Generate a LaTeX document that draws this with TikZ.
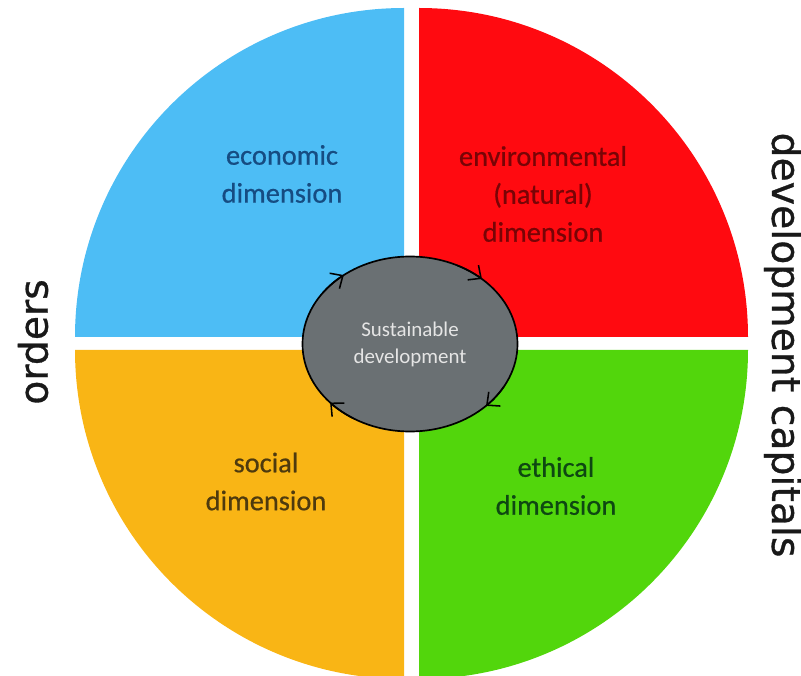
\documentclass[tikz,border=0pt]{standalone}
\usepackage{fontspec}
\setmainfont{Carlito}
\newfontfamily\dimfont[UprightFeatures={FakeBold=0.6}]{Carlito}
\newfontfamily\sidefont[UprightFeatures={FakeBold=0.8}]{DejaVu Sans}
\usetikzlibrary{shapes.geometric,arrows.meta}
\definecolor{econblue}{RGB}{77,189,245}
\definecolor{envred}{RGB}{255,10,16}
\definecolor{socorange}{RGB}{249,181,21}
\definecolor{ethgreen}{RGB}{82,214,12}
\definecolor{sdgray}{RGB}{106,112,115}
\definecolor{econtext}{RGB}{22,76,130}
\definecolor{envtext}{RGB}{120,4,6}
\definecolor{soctext}{RGB}{78,58,14}
\definecolor{ethtext}{RGB}{14,72,18}
\tikzset{
    dimlabel/.style={align=center, font=\dimfont\fontsize{20.2}{27}\selectfont},
    sidelabel/.style={font=\sidefont\fontsize{28}{34}\selectfont, text=black!90},
    cyclearrow/.style={-{Straight Barb[length=7pt,width=13pt]}, line width=1.1pt},
}

\begin{document}
\begin{tikzpicture}
    \useasboundingbox (0,0) rectangle (20.025,16.875);
    \fill[econblue] (10.1,8.45) -- (1.875,8.45) arc[start angle=180, end angle=90, radius=8.225] -- cycle;
    \fill[envred] (10.475,8.45) -- (10.475,16.675) arc[start angle=90, end angle=0, radius=8.225] -- cycle;
    \fill[socorange] (10.1,8.125) -- (10.1,-0.1) arc[start angle=270, end angle=180, radius=8.225] -- cycle;
    \fill[ethgreen] (10.475,8.125) -- (18.7,8.125) arc[start angle=0, end angle=-90, radius=8.225] -- cycle;
    \node[dimlabel, text=econtext] (econ) at (7.05,12.525) {economic\\dimension};
    \node[dimlabel, text=envtext] (env) at (13.575,12.025) {environmental\\(natural)\\dimension};
    \node[dimlabel, text=soctext] (soc) at (6.65,4.8375) {social\\dimension};
    \node[dimlabel, text=ethtext] (eth) at (13.9,4.725) {ethical\\dimension};
    \node[ellipse, minimum width=5.375cm, minimum height=4.375cm, inner sep=0pt, draw=black, line width=1.2pt, fill=sdgray, align=center, text=white!90!black, font=\fontsize{14.9}{19.2}\selectfont] (sd) at (10.25,8.275) {Sustainable\\development};
    \draw[cyclearrow] ([shift={(144:2.6875cm and 2.1875cm)}]sd.center) arc[start angle=144, end angle=128, x radius=2.6875cm, y radius=2.1875cm];
    \draw[cyclearrow] ([shift={(64:2.6875cm and 2.1875cm)}]sd.center) arc[start angle=64, end angle=48, x radius=2.6875cm, y radius=2.1875cm];
    \draw[cyclearrow] ([shift={(-29:2.6875cm and 2.1875cm)}]sd.center) arc[start angle=-29, end angle=-45, x radius=2.6875cm, y radius=2.1875cm];
    \draw[cyclearrow] ([shift={(238:2.6875cm and 2.1875cm)}]sd.center) arc[start angle=238, end angle=222, x radius=2.6875cm, y radius=2.1875cm];
    \node[sidelabel, rotate=90] (orders) at (0.825,8.325) {orders};
    \node[sidelabel, rotate=-90] (capitals) at (19.575,8.25) {development capitals};
\end{tikzpicture}
\end{document}
